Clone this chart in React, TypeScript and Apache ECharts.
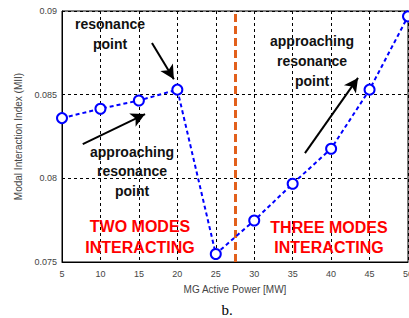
import React, { useEffect, useRef } from "react";
import * as echarts from "echarts";

const powerMW = [5, 10, 15, 20, 25, 30, 35, 40, 45, 50];
const miiValues = [0.0836, 0.08416, 0.08465, 0.0853, 0.07548, 0.07748, 0.07968, 0.08177, 0.0853, 0.08968];
const boundaryMW = 27.5;
const yTicks = { min: 0.075, max: 0.09, step: 0.005 };
const xTicks = { min: 5, max: 50, step: 5 };
// arrow annotations in data coordinates: [x1, y1, x2, y2]
const arrows = [
  [16.7, 0.08809, 19.55, 0.08592],
  [7.7, 0.08205, 15.8, 0.08384],
  [36.6, 0.08151, 43.5, 0.0860],
];

const FONT = "Arial, 'Liberation Sans', sans-serif";

export default function App() {
  const ref = useRef<HTMLDivElement>(null);
  useEffect(() => {
    const chart = echarts.init(ref.current!, undefined, { renderer: "svg" });
    const data = powerMW.map((x, i) => [x, miiValues[i]]);
    const boldText = (x: number, y: number, text: string, color: string, size: number, lh: number) => ({
      type: "text",
      x,
      y,
      style: {
        text,
        fill: color,
        font: `bold ${size}px ${FONT}`,
        align: "center",
        verticalAlign: "middle",
        lineHeight: lh,
      },
      z: 100,
    });
    chart.setOption({
      animation: false,
      grid: {
        left: 62,
        top: 11,
        width: 346,
        height: 251,
        show: true,
        borderColor: "#000",
        borderWidth: 1,
        backgroundColor: "#fff",
        outerBoundsMode: "none",
        containLabel: false,
      },
      xAxis: {
        type: "value",
        min: xTicks.min,
        max: xTicks.max,
        interval: xTicks.step,
        name: "MG Active Power [MW]",
        nameLocation: "middle",
        nameGap: 22,
        nameTextStyle: { color: "#444", fontSize: 10, fontFamily: FONT },
        axisLine: { show: true, lineStyle: { color: "#000", width: 1 } },
        axisTick: { show: false },
        axisLabel: { color: "#444", fontSize: 9, fontFamily: FONT, margin: 7 },
        splitLine: { show: true, lineStyle: { color: "#000", type: [3, 3], width: 1 } },
      },
      yAxis: {
        type: "value",
        min: yTicks.min,
        max: yTicks.max,
        interval: yTicks.step,
        name: "Modal Interaction Index (MII)",
        nameLocation: "middle",
        nameGap: 38,
        nameTextStyle: { color: "#444", fontSize: 10, fontFamily: FONT },
        axisLine: { show: true, lineStyle: { color: "#000", width: 1 } },
        axisTick: { show: false },
        axisLabel: {
          color: "#444",
          fontSize: 9,
          fontFamily: FONT,
          margin: 5,
          formatter: (v: number) => String(+v.toFixed(3)),
        },
        splitLine: { show: true, lineStyle: { color: "#000", type: [3, 3], width: 1 } },
      },
      series: [
        {
          type: "line",
          data,
          symbol: "circle",
          symbolSize: 10,
          showAllSymbol: true,
          lineStyle: { color: "#0000ff", width: 2, type: [4, 3] },
          itemStyle: { color: "#fff", borderColor: "#0000ff", borderWidth: 2 },
          z: 5,
          markLine: {
            silent: true,
            symbol: "none",
            label: { show: false },
            lineStyle: { color: "#e2601c", width: 3, type: [8, 4] },
            data: [{ xAxis: boundaryMW }],
          },
        },
        {
          type: "scatter",
          data: [],
          markLine: {
            silent: true,
            symbol: ["none", "arrow"],
            symbolSize: [11, 14],
            label: { show: false },
            lineStyle: { color: "#000", width: 2, type: "solid" },
            data: arrows.map((a) => [{ coord: [a[0], a[1]] }, { coord: [a[2], a[3]] }]),
          },
        },
      ],
      graphic: [
        boldText(110, 34, "resonance\npoint", "#111", 14, 20),
        boldText(132, 171, "approaching\nresonance\npoint", "#111", 14, 19.5),
        boldText(312, 61, "approaching\nresonance\npoint", "#111", 14, 20),
        boldText(140, 237, "TWO MODES\nINTERACTING", "#ff0000", 16, 21),
        boldText(329, 237, "THREE MODES\nINTERACTING", "#ff0000", 16, 20),
        {
          type: "text",
          x: 227,
          y: 310,
          style: {
            text: "b.",
            fill: "#000",
            font: "15px 'Liberation Serif', 'DejaVu Serif', serif",
            align: "center",
            verticalAlign: "middle",
          },
        },
      ],
    });
    return () => chart.dispose();
  }, []);
  return <div ref={ref} style={{ width: 409, height: 318, position: "absolute", left: 0, top: 0 }} />;
}
